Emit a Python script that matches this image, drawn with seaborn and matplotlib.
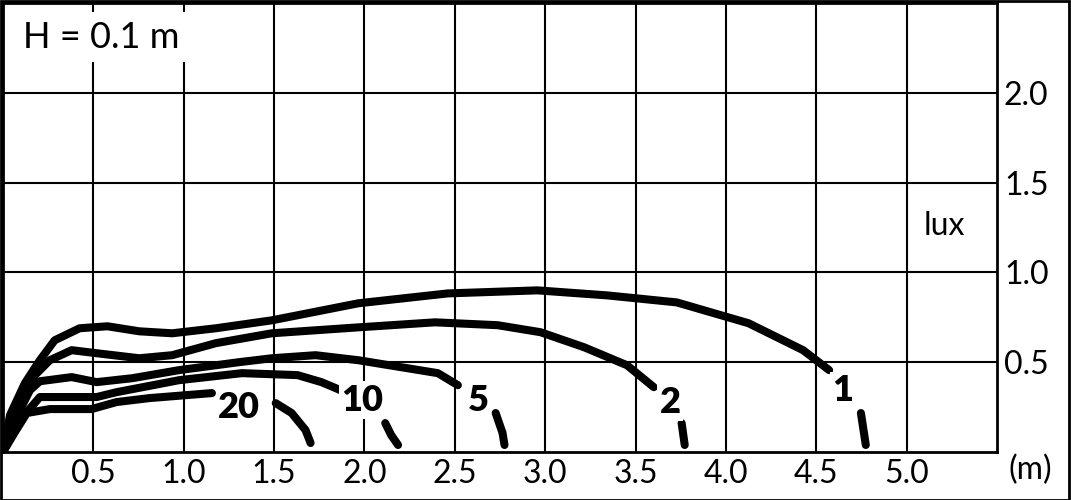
import matplotlib
matplotlib.use("Agg")
import matplotlib.pyplot as plt
import seaborn as sns
import pandas as pd
from matplotlib.patches import Rectangle

sns.set_style("white")
plt.rcParams['font.family'] = ['Lato', 'DejaVu Sans']
plt.rcParams['text.color'] = 'black'

# ---- data (distance in m, illuminance in lux) ----
c1_x = [0.0, 0.039, 0.121, 0.204, 0.286, 0.424, 0.578, 0.754, 0.936, 1.178, 1.487, 1.966, 2.461, 2.957, 3.343, 3.728, 4.125, 4.427, 4.571]
c1_y = [0.0, 0.206, 0.383, 0.511, 0.622, 0.689, 0.700, 0.672, 0.661, 0.689, 0.733, 0.828, 0.883, 0.900, 0.872, 0.833, 0.717, 0.567, 0.456]
c1_tx = [4.747, 4.774]
c1_ty = [0.217, 0.039]

c2_x = [0.0, 0.066, 0.149, 0.259, 0.380, 0.518, 0.754, 0.936, 1.178, 1.487, 1.966, 2.390, 2.737, 2.974, 3.216, 3.453, 3.601]
c2_y = [0.0, 0.233, 0.400, 0.511, 0.567, 0.550, 0.522, 0.539, 0.606, 0.661, 0.694, 0.722, 0.706, 0.667, 0.583, 0.483, 0.361]
c2_tx = [3.755, 3.772]
c2_ty = [0.161, 0.039]

c5_x = [0.0, 0.066, 0.149, 0.204, 0.380, 0.518, 0.716, 0.975, 1.305, 1.487, 1.729, 1.966, 2.406, 2.517]
c5_y = [0.0, 0.178, 0.344, 0.394, 0.417, 0.389, 0.411, 0.456, 0.500, 0.522, 0.539, 0.511, 0.439, 0.372]
c5_tx = [2.726, 2.764, 2.775]
c5_ty = [0.217, 0.106, 0.039]

c10_x = [0.0, 0.094, 0.204, 0.518, 0.628, 0.975, 1.322, 1.630, 1.762, 1.894]
c10_y = [0.0, 0.178, 0.306, 0.306, 0.333, 0.400, 0.439, 0.428, 0.389, 0.333]
c10_tx = [2.115, 2.148, 2.186]
c10_ty = [0.161, 0.094, 0.039]

c20_x = [0.0, 0.066, 0.132, 0.259, 0.490, 0.628, 0.809, 1.156]
c20_y = [0.0, 0.111, 0.217, 0.239, 0.239, 0.278, 0.300, 0.328]
c20_tx = [1.509, 1.597, 1.674, 1.702]
c20_ty = [0.272, 0.217, 0.122, 0.050]

curve_labels = ["1", "2", "5", "10", "20"]
label_x = [4.648, 3.69, 2.63, 1.99, 1.305]
label_y = [0.344, 0.278, 0.289, 0.289, 0.25]

x_ticks = [0.5, 1.0, 1.5, 2.0, 2.5, 3.0, 3.5, 4.0, 4.5, 5.0]
x_tick_labels = ["0.5", "1.0", "1.5", "2.0", "2.5", "3.0", "3.5", "4.0", "4.5", "5.0"]
y_ticks = [0.5, 1.0, 1.5, 2.0]
y_tick_labels = ["0.5", "1.0", "1.5", "2.0"]

title_text = "H = 0.1 m"
unit_y = "lux"
unit_x = "(m)"

# ---- build long table ----
rows = []
segs = [
    ("1", "a", c1_x, c1_y), ("1", "b", c1_tx, c1_ty),
    ("2", "a", c2_x, c2_y), ("2", "b", c2_tx, c2_ty),
    ("5", "a", c5_x, c5_y), ("5", "b", c5_tx, c5_ty),
    ("10", "a", c10_x, c10_y), ("10", "b", c10_tx, c10_ty),
    ("20", "a", c20_x, c20_y), ("20", "b", c20_tx, c20_ty),
]
for name, part, xs, ys in segs:
    for i, (xv, yv) in enumerate(zip(xs, ys)):
        rows.append({"x": xv, "y": yv, "curve": name, "seg": name + part, "order": i})
df = pd.DataFrame(rows)

fig = plt.figure(figsize=(10.71, 5.0), dpi=100)
ax = fig.add_axes([3 / 1071, 48 / 500, 994 / 1071, 449 / 500])

sns.lineplot(data=df, x="x", y="y", units="seg", estimator=None, sort=False,
             color="black", linewidth=5.8, ax=ax, legend=False,
             solid_capstyle="round", solid_joinstyle="round")

ax.set_xlim(0, 5.5)
ax.set_ylim(0, 2.5)
ax.set_xticks(x_ticks)
ax.set_xticklabels(x_tick_labels)
ax.set_yticks(y_ticks)
ax.set_yticklabels(y_tick_labels)
ax.yaxis.tick_right()
ax.tick_params(axis="both", length=0, labelsize=23, colors="black")
ax.tick_params(axis="x", pad=5)
ax.tick_params(axis="y", pad=5)
ax.set_xlabel("")
ax.set_ylabel("")
ax.grid(True, color="black", linewidth=1.5)
ax.set_axisbelow(True)
for s in ax.spines.values():
    s.set_visible(True)
    s.set_color("black")
    s.set_linewidth(2)

for lab, lx, ly in zip(curve_labels, label_x, label_y):
    ax.text(lx, ly, lab, fontsize=26, fontweight="heavy", ha="center", va="center",
            color="black", zorder=5,
            bbox=dict(facecolor="white", edgecolor="none", pad=1.5))

ax.text(0.11, 2.31, title_text, fontsize=26, ha="left", va="center", color="black",
        zorder=5, bbox=dict(facecolor="white", edgecolor="none", pad=6))
ax.text(5.21, 1.26, unit_y, fontsize=23, ha="center", va="center", color="black")
fig.text(1030 / 1071, 1 - 470 / 500, unit_x, fontsize=23, ha="center", va="center",
         color="black")

fig.patches.append(Rectangle((0.0005, 0.001), 0.998, 0.997, transform=fig.transFigure,
                             fill=False, edgecolor="black", linewidth=2))

fig.savefig("out.png", dpi=100, facecolor="white")
